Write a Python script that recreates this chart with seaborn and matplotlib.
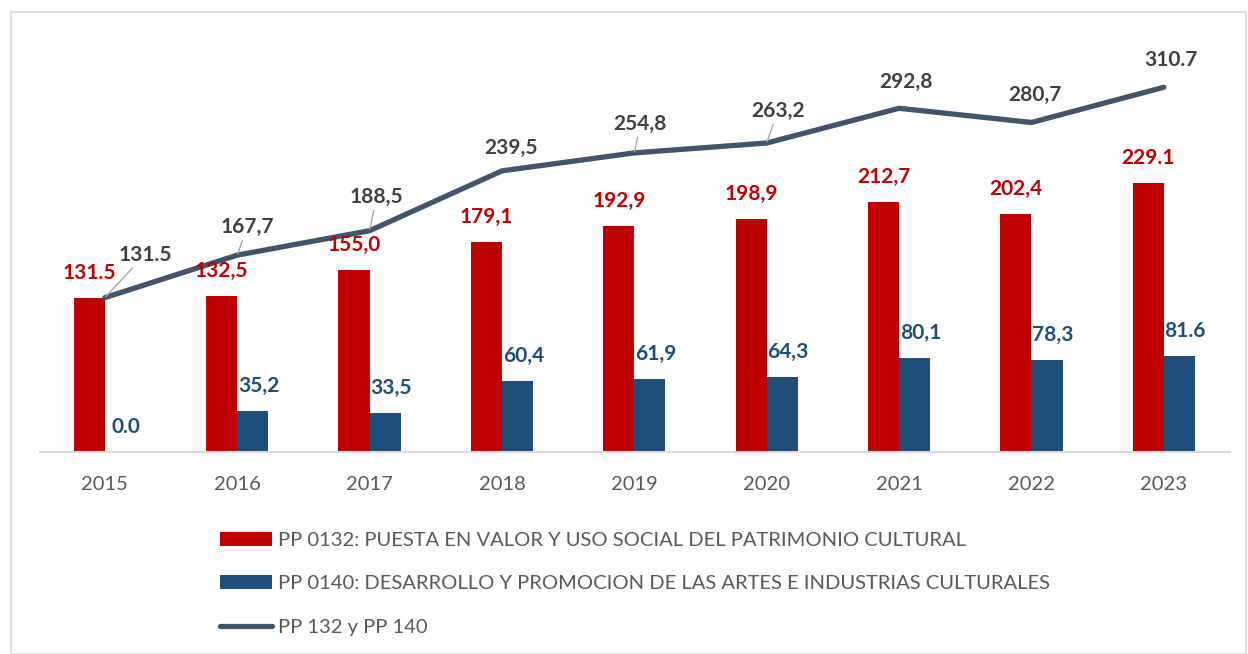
import numpy as np
import pandas as pd
import seaborn as sns
import matplotlib.pyplot as plt
from matplotlib.patches import Rectangle

years = ['2015', '2016', '2017', '2018', '2019', '2020', '2021', '2022', '2023']
pp132 = [131.5, 132.5, 155.0, 179.1, 192.9, 198.9, 212.7, 202.4, 229.1]
pp140 = [0.0, 35.2, 33.5, 60.4, 61.9, 64.3, 80.1, 78.3, 81.6]
total = [131.5, 167.7, 188.5, 239.5, 254.8, 263.2, 292.8, 280.7, 310.7]

# labels as printed on the source chart (mixed decimal marks)
lab132 = ['131.5', '132,5', '155,0', '179,1', '192,9', '198,9', '212,7', '202,4', '229.1']
lab140 = ['0.0', '35,2', '33,5', '60,4', '61,9', '64,3', '80,1', '78,3', '81.6']
labtot = ['131.5', '167,7', '188,5', '239,5', '254,8', '263,2', '292,8', '280,7', '310.7']

name132 = 'PP 0132: PUESTA EN VALOR Y USO SOCIAL DEL PATRIMONIO CULTURAL'
name140 = 'PP 0140: DESARROLLO Y PROMOCION DE LAS ARTES E INDUSTRIAS CULTURALES'
nametot = 'PP 132 y PP 140'

RED = '#C00000'
BLUE = '#1F4E79'
LINE = '#44546A'

sns.set_style('white')
plt.rcParams['font.family'] = ['Lato', 'DejaVu Sans']

df = pd.DataFrame({
    'year': years * 2,
    'value': pp132 + pp140,
    'serie': [name132] * len(years) + [name140] * len(years),
})

fig = plt.figure(figsize=(12.48, 6.54), dpi=100)
ax = fig.add_axes([40 / 1248, 1 - 452 / 654, 1190 / 1248, 432 / 654])

sns.barplot(data=df, x='year', y='value', hue='serie', palette=[RED, BLUE],
            saturation=1, width=0.47, linewidth=0, ax=ax)
pos = np.arange(len(years))
sns.lineplot(x=pos, y=total, color=LINE, linewidth=3.8, label=nametot,
             ax=ax, solid_capstyle='round', solid_joinstyle='round')

ax.set_xlim(-0.49, 8.5)
ax.set_ylim(0, 368)
ax.set_xlabel('')
ax.set_ylabel('')
ax.set_yticks([])
for s in ['top', 'left', 'right']:
    ax.spines[s].set_visible(False)
ax.spines['bottom'].set_color('#D9D9D9')
ax.spines['bottom'].set_linewidth(1.5)
ax.tick_params(axis='x', length=0, pad=17, labelsize=14.5, labelcolor='#595959')

# bar labels
for i in range(len(years)):
    ax.annotate(lab132[i], (i - 0.1175, pp132[i]), xytext=(0, 25),
                textcoords='offset pixels', ha='center', va='center',
                fontsize=15, fontweight='bold', color=RED)
    ax.annotate(lab140[i], (i + 0.1175, pp140[i]), xytext=(6, 25),
                textcoords='offset pixels', ha='center', va='center',
                fontsize=15, fontweight='bold', color=BLUE)

# line labels, some with leader lines
offs = [(40, 43), (10, 28), (7, 34), (9, 23), (6, 29), (11, 32), (7, 26), (3, 28), (7, 27)]
leader = [True, True, True, False, True, True, False, False, False]
for i in range(len(years)):
    ap = dict(arrowstyle='-', color='#A6A6A6', lw=1, shrinkA=0, shrinkB=1) if leader[i] else None
    ax.annotate(labtot[i], (i, total[i]), xytext=offs[i],
                textcoords='offset pixels', ha='center', va='center',
                fontsize=15, fontweight='bold', color='#404040',
                arrowprops=ap)

handles, labels = ax.get_legend_handles_labels()
ax.get_legend().remove()
leg = fig.legend(handles, labels, loc='upper left',
                 bbox_to_anchor=(212 / 1248, 1 - 524 / 654),
                 frameon=False, fontsize=14.5, labelcolor='#595959',
                 handlelength=2.6, handleheight=0.7, handletextpad=0.3,
                 labelspacing=1.3, borderaxespad=0)

fig.patches.append(Rectangle((11 / 1248, 0.0), 1235 / 1248, 1 - 12 / 654,
                             transform=fig.transFigure, fill=False,
                             edgecolor='#D9D9D9', linewidth=1.2))

fig.savefig('out.png', dpi=100)
